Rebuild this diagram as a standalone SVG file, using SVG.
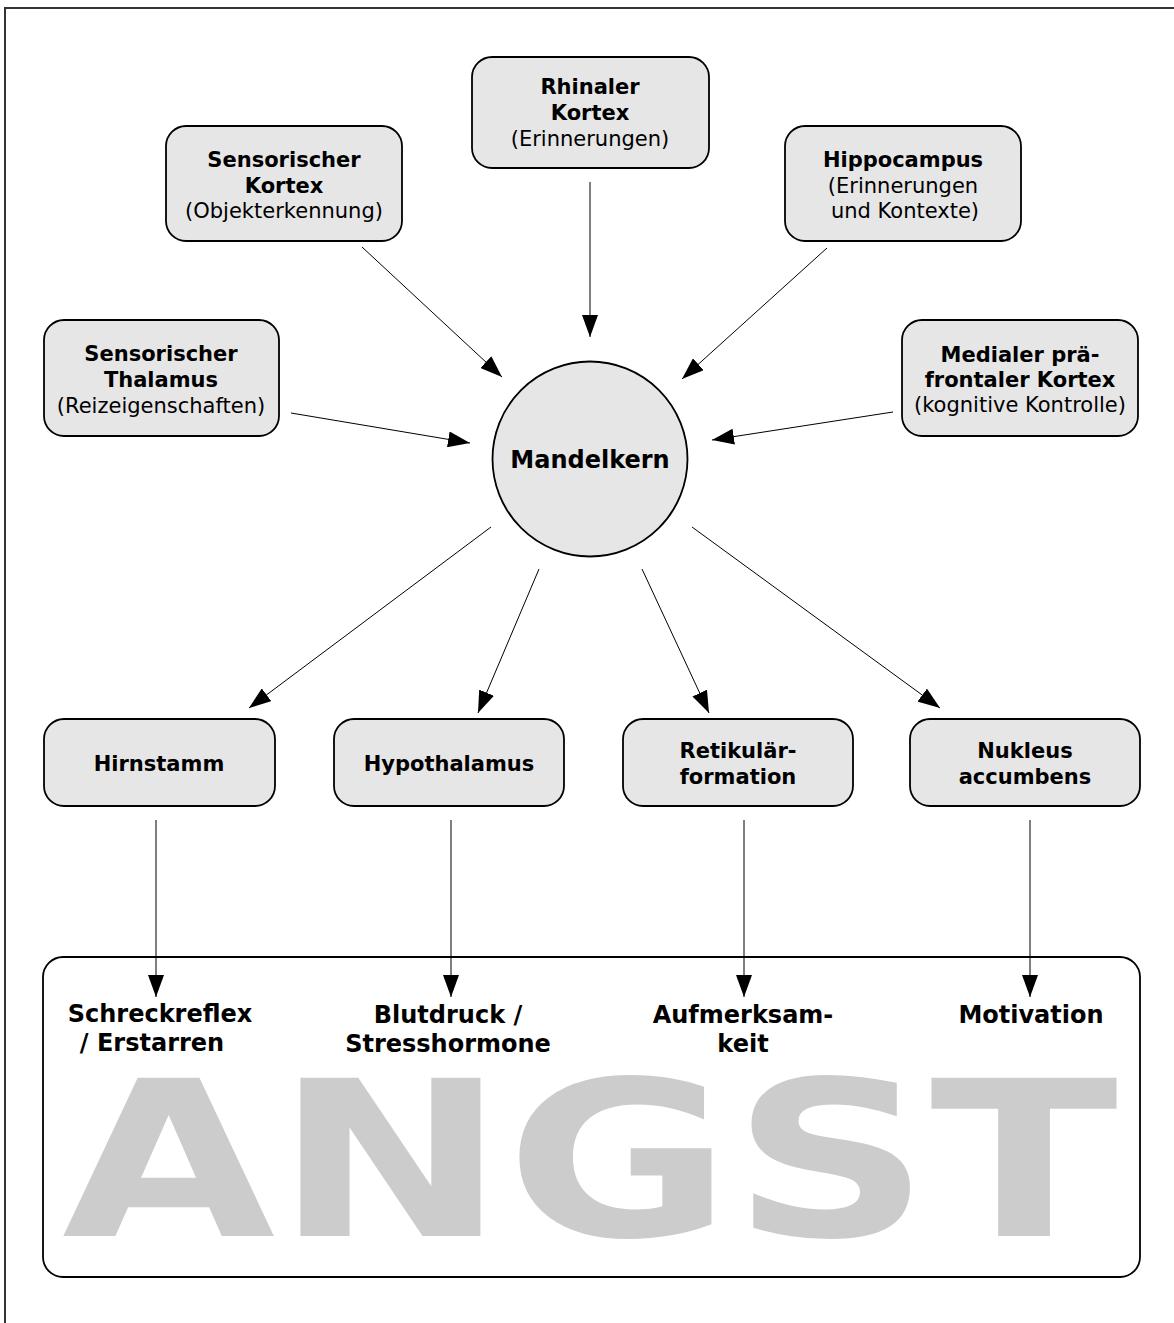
<svg xmlns="http://www.w3.org/2000/svg" width="1174" height="1323" viewBox="0 0 1174 1323">
<style>
.box{fill:#e6e6e6;stroke:#000;stroke-width:1.8}
.b{font-family:"DejaVu Sans",Verdana,sans-serif;font-weight:bold;font-size:21px;text-anchor:middle;fill:#000}
.r{font-family:"DejaVu Sans",Verdana,sans-serif;font-size:21px;text-anchor:middle;fill:#000}
.o{font-family:"DejaVu Sans",Verdana,sans-serif;font-weight:bold;font-size:24px;text-anchor:middle;fill:#000}
.c{stroke:#000;stroke-width:1;fill:none;marker-end:url(#ah)}
</style>
<defs>
<marker id="ah" markerWidth="22" markerHeight="16" refX="22" refY="8" orient="auto" markerUnits="userSpaceOnUse">
<path d="M0,0 L22,8 L0,16 z" fill="#000"/>
</marker>
</defs>
<rect width="1174" height="1323" fill="#fff"/>
<rect x="5" y="8" width="1300" height="1400" fill="none" stroke="#333" stroke-width="2"/>

<g id="angst">
<rect x="43" y="957" width="1097" height="320" rx="20" ry="20" fill="#fff" stroke="#000" stroke-width="1.8"/>
<text x="62" y="1236" font-family="DejaVu Sans,Verdana,sans-serif" font-weight="bold" font-size="217" fill="#cccccc" textLength="1056" lengthAdjust="spacingAndGlyphs">ANGST</text>
<text class="o" y="1022"><tspan x="160">Schreckreflex</tspan><tspan x="152" dy="29">/ Erstarren</tspan></text>
<text class="o" y="1023"><tspan x="448">Blutdruck /</tspan><tspan x="448" dy="29">Stresshormone</tspan></text>
<text class="o" y="1023"><tspan x="743">Aufmerksam-</tspan><tspan x="743" dy="29">keit</tspan></text>
<text class="o" x="1031" y="1023">Motivation</text>
</g>

<g id="rhinaler">
<rect class="box" x="472" y="57" width="237" height="111" rx="20" ry="20"/>
<text class="b" x="590" y="94">Rhinaler</text>
<text class="b" x="590" y="120">Kortex</text>
<text class="r" x="590" y="146">(Erinnerungen)</text>
</g>
<g id="senskortex">
<rect class="box" x="166" y="126" width="236" height="115" rx="20" ry="20"/>
<text class="b" x="284" y="167">Sensorischer</text>
<text class="b" x="284" y="193">Kortex</text>
<text class="r" x="284" y="218">(Objekterkennung)</text>
</g>
<g id="hippocampus">
<rect class="box" x="785" y="126" width="236" height="115" rx="20" ry="20"/>
<text class="b" x="903" y="167">Hippocampus</text>
<text class="r" x="903" y="193">(Erinnerungen</text>
<text class="r" x="905" y="218">und Kontexte)</text>
</g>
<g id="thalamus">
<rect class="box" x="44" y="320" width="235" height="116" rx="20" ry="20"/>
<text class="b" x="161" y="361">Sensorischer</text>
<text class="b" x="161" y="387">Thalamus</text>
<text class="r" x="161" y="413">(Reizeigenschaften)</text>
</g>
<g id="medial">
<rect class="box" x="902" y="320" width="236" height="116" rx="20" ry="20"/>
<text class="b" x="1020" y="362">Medialer prä-</text>
<text class="b" x="1020" y="387">frontaler Kortex</text>
<text class="r" x="1020" y="412">(kognitive Kontrolle)</text>
</g>
<g id="mandelkern">
<circle cx="590" cy="459" r="97.5" fill="#e6e6e6" stroke="#000" stroke-width="1.8"/>
<text class="o" x="590" y="468">Mandelkern</text>
</g>
<g id="hirnstamm">
<rect class="box" x="44" y="719" width="231" height="87" rx="20" ry="20"/>
<text class="b" x="159" y="771">Hirnstamm</text>
</g>
<g id="hypothalamus">
<rect class="box" x="334" y="719" width="230" height="87" rx="20" ry="20"/>
<text class="b" x="449" y="771">Hypothalamus</text>
</g>
<g id="retikulaer">
<rect class="box" x="623" y="719" width="230" height="87" rx="20" ry="20"/>
<text class="b" x="738" y="758">Retikulär-</text>
<text class="b" x="738" y="784">formation</text>
</g>
<g id="nukleus">
<rect class="box" x="910" y="719" width="230" height="87" rx="20" ry="20"/>
<text class="b" x="1025" y="758">Nukleus</text>
<text class="b" x="1025" y="784">accumbens</text>
</g>

<g id="connectors">
<line class="c" x1="590" y1="182" x2="590" y2="337"/>
<line class="c" x1="362" y1="247" x2="502" y2="377"/>
<line class="c" x1="827" y1="248" x2="682" y2="379"/>
<line class="c" x1="291" y1="413" x2="470" y2="443"/>
<line class="c" x1="893" y1="412" x2="712" y2="440"/>
<line class="c" x1="491" y1="527" x2="249" y2="708"/>
<line class="c" x1="539" y1="569" x2="478" y2="713"/>
<line class="c" x1="642" y1="569" x2="709" y2="713"/>
<line class="c" x1="692" y1="527" x2="940" y2="708"/>
<line class="c" x1="156" y1="820" x2="156" y2="997"/>
<line class="c" x1="451" y1="820" x2="451" y2="997"/>
<line class="c" x1="744" y1="820" x2="744" y2="997"/>
<line class="c" x1="1030" y1="820" x2="1030" y2="997"/>
</g>
</svg>
